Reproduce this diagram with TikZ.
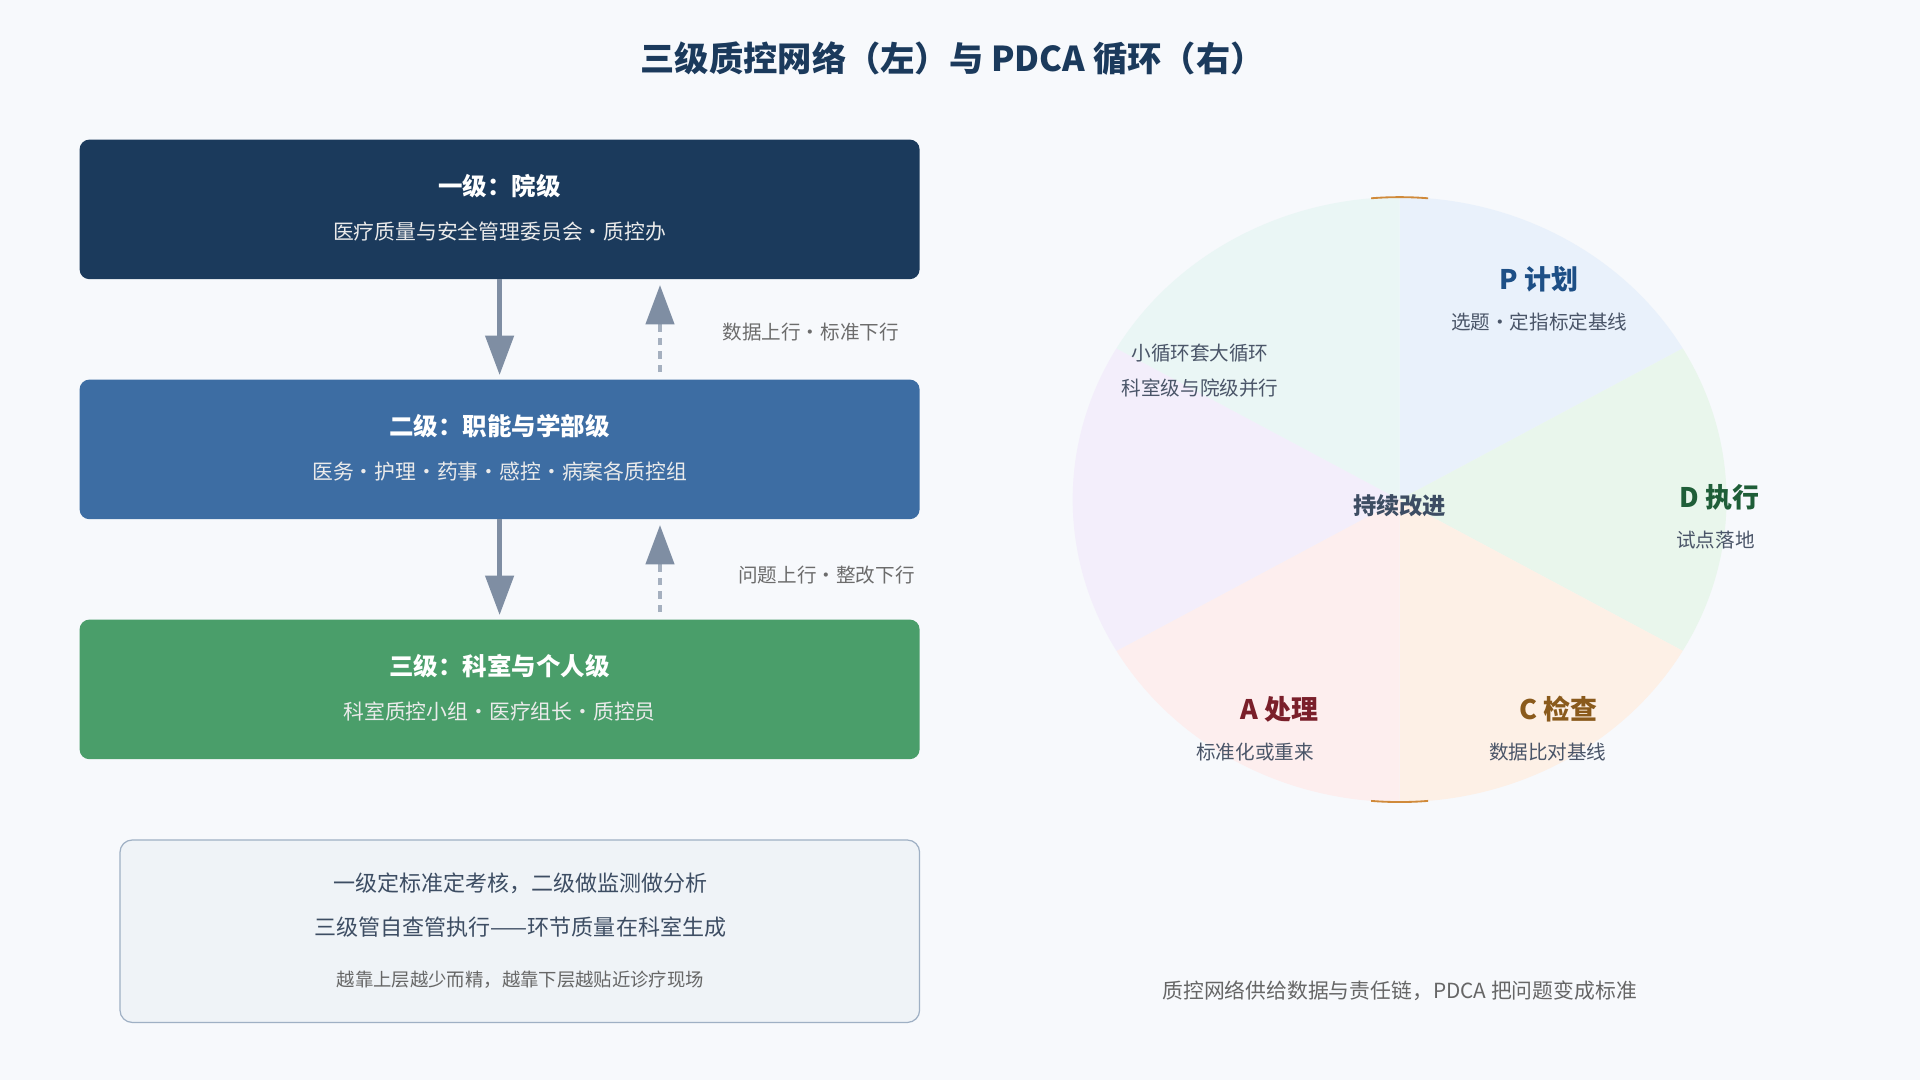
\documentclass[tikz,border=0pt]{standalone}
\usepackage{fontspec}
\setmainfont{Noto Sans CJK SC}
\definecolor{bg}{HTML}{F7F9FC}
\definecolor{c1}{HTML}{1B3A5C}
\definecolor{c2}{HTML}{3D6DA3}
\definecolor{c3}{HTML}{4A9E6A}
\definecolor{arrowc}{HTML}{7F8EA3}
\definecolor{textc}{HTML}{4A5568}
\definecolor{notefill}{HTML}{EFF3F7}
\definecolor{notedraw}{HTML}{9FB0C4}
\definecolor{dark}{HTML}{3D4D63}
\definecolor{sp}{HTML}{E9F1FB}
\definecolor{sd}{HTML}{E9F6EC}
\definecolor{sc}{HTML}{FDF0E6}
\definecolor{sa}{HTML}{FDEEEE}
\definecolor{sv}{HTML}{F3EEFB}
\definecolor{st}{HTML}{EAF6F5}
\definecolor{orng}{HTML}{D08A3A}
\definecolor{cp}{HTML}{1D4F86}
\definecolor{cd}{HTML}{1F5E38}
\definecolor{cc}{HTML}{8A5A1C}
\definecolor{ca}{HTML}{7A1F2A}
\begin{document}
\begin{tikzpicture}[x=1pt,y=-1pt,
  box/.style={rounded corners=8pt,draw=none},
  ttl/.style={text=white,font=\fontsize{20}{24}\selectfont\bfseries},
  sub/.style={text=white!92!black,font=\fontsize{17}{20}\selectfont},
  side/.style={text=gray!85!black,font=\fontsize{16}{20}\selectfont},
  arr/.style={draw=arrowc,line width=3.5pt},
  dasharr/.style={draw=arrowc!70,line width=2.5pt,dash pattern=on 6pt off 5pt},
  plab/.style={font=\fontsize{22}{26}\selectfont\bfseries},
  psub/.style={text=textc,font=\fontsize{16}{20}\selectfont}]
\useasboundingbox (0,0) rectangle (1568,882);
\fill[bg] (0,0) rectangle (1568,882);
\node[text=c1,font=\fontsize{28}{32}\selectfont\bfseries] (title) at (778,48) {三级质控网络（左）与 PDCA 循环（右）};
% left boxes
\fill[box,c1] (65,114) rectangle (751,228);
\fill[box,c2] (65,310) rectangle (751,424);
\fill[box,c3] (65,506) rectangle (751,620);
\node[ttl] (t1) at (408,152) {一级：院级};
\node[sub] (s1) at (408,189) {医疗质量与安全管理委员会·质控办};
\node[ttl] (t2) at (408,348) {二级：职能与学部级};
\node[sub] (s2) at (408,385) {医务·护理·药事·感控·病案各质控组};
\node[ttl] (t3) at (408,544) {三级：科室与个人级};
\node[sub] (s3) at (408,581) {科室质控小组·医疗组长·质控员};
\coordinate (a1) at (408,228); \coordinate (a2) at (408,280);
\coordinate (a3) at (408,424); \coordinate (a4) at (408,476);
\coordinate (b1) at (539,304); \coordinate (b2) at (539,262);
\coordinate (b3) at (539,500); \coordinate (b4) at (539,458);
\draw[arr] (a1) -- (a2);
\fill[arrowc] (408,306) -- (396,274) -- (420,274) -- cycle;
\draw[arr] (a3) -- (a4);
\fill[arrowc] (408,502) -- (396,470) -- (420,470) -- cycle;
\draw[dasharr] (b1) -- (b2);
\fill[arrowc] (539,233) -- (527,265) -- (551,265) -- cycle;
\draw[dasharr] (b3) -- (b4);
\fill[arrowc] (539,429) -- (527,461) -- (551,461) -- cycle;
\node[side] (l1) at (662,271) {数据上行·标准下行};
\node[side] (l2) at (675,470) {问题上行·整改下行};
% note
\draw[rounded corners=10pt,fill=notefill,draw=notedraw,line width=1pt] (98,686) rectangle (751,835);
\node[text=dark,font=\fontsize{18}{22}\selectfont] (n1) at (425,721) {一级定标准定考核，二级做监测做分析};
\node[text=dark,font=\fontsize{18}{22}\selectfont] (n2) at (425,757) {三级管自查管执行——环节质量在科室生成};
\node[text=gray!80!black,font=\fontsize{15}{18}\selectfont] (n3) at (425,800) {越靠上层越少而精，越靠下层越贴近诊疗现场};
% pie
\begin{scope}[shift={(1143,408)},y=1pt]
\fill[sp] (0,0) -- (90:267 and 247) arc[start angle=90,end angle=30,x radius=267,y radius=247] -- cycle;
\fill[sd] (0,0) -- (30:267 and 247) arc[start angle=30,end angle=-30,x radius=267,y radius=247] -- cycle;
\fill[sc] (0,0) -- (-30:267 and 247) arc[start angle=-30,end angle=-90,x radius=267,y radius=247] -- cycle;
\fill[sa] (0,0) -- (-90:267 and 247) arc[start angle=-90,end angle=-150,x radius=267,y radius=247] -- cycle;
\fill[sv] (0,0) -- (-150:267 and 247) arc[start angle=-150,end angle=-210,x radius=267,y radius=247] -- cycle;
\fill[st] (0,0) -- (150:267 and 247) arc[start angle=150,end angle=90,x radius=267,y radius=247] -- cycle;
\draw[orng,line width=1.5pt] (95:267 and 247) arc[start angle=95,end angle=85,x radius=267,y radius=247];
\draw[orng,line width=1.5pt] (-95:267 and 247) arc[start angle=-95,end angle=-85,x radius=267,y radius=247];
\end{scope}
\node[font=\fontsize{19}{22}\selectfont\bfseries,text=dark] (ctr) at (1143,413) {持续改进};
\node[plab,text=cp] (p) at (1257,228) {P 计划};
\node[psub] (ps) at (1257,263) {选题·定指标定基线};
\node[plab,text=cd] (d) at (1404,406) {D 执行};
\node[psub] (ds) at (1401,441) {试点落地};
\node[plab,text=cc] (c) at (1273,579) {C 检查};
\node[psub] (cs) at (1264,614) {数据比对基线};
\node[plab,text=ca] (a) at (1045,579) {A 处理};
\node[psub] (as) at (1025,614) {标准化或重来};
\node[psub] (m1) at (980,288) {小循环套大循环};
\node[psub] (m2) at (980,317) {科室级与院级并行};
\node[text=gray!80!black,font=\fontsize{17}{20}\selectfont] (foot) at (1143,809) {质控网络供给数据与责任链，PDCA 把问题变成标准};
\end{tikzpicture}
\end{document}
